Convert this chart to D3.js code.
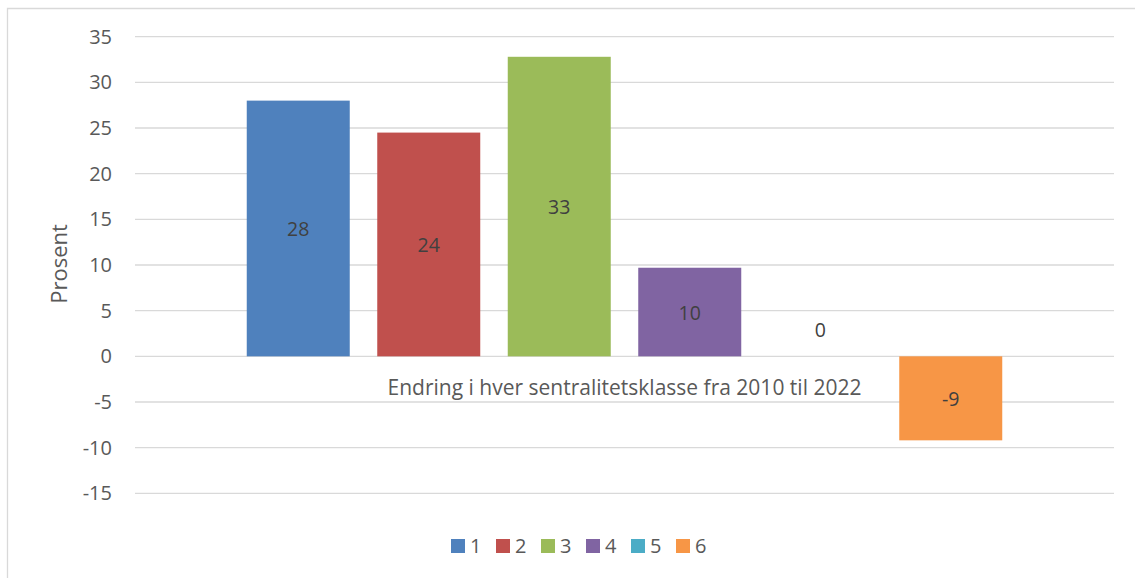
<!doctype html>
<html lang='no'>
<head>
    <meta charset='utf-8'>
    <title>Endring i hver sentralitetsklasse</title>
    <script src='https://cdn.jsdelivr.net/npm/d3@7'></script>
    <style>
        body { margin: 0; background: white; }
        svg text { font-family: 'Open Sans', sans-serif; }
        .grid line { stroke: #d9d9d9; stroke-width: 1.3px; }
        .tick-label { fill: #595959; font-size: 20px; }
        .bar-label { fill: #404040; font-size: 19.5px; }
    </style>
</head>
<body>
<svg id='chart' width='1135' height='578'></svg>
<script>
    // data
    const category = 'Endring i hver sentralitetsklasse fra 2010 til 2022';
    const classes = ['1', '2', '3', '4', '5', '6'];
    const changes = [28.0, 24.5, 32.8, 9.7, 0, -9.2];
    const labels = ['28', '24', '33', '10', '0', '-9'];
    const yTicks = [35, 30, 25, 20, 15, 10, 5, 0, -5, -10, -15];
    const colors = ['#4f81bd', '#c0504d', '#9bbb59', '#8064a2', '#4bacc6', '#f79646'];

    const svg = d3.select('#chart');

    // chart area border (only left and top are visible in the crop)
    svg.append('path')
        .attr('d', 'M7.5,578 V8.5 H1135')
        .attr('fill', 'none')
        .attr('stroke', '#d9d9d9')
        .attr('stroke-width', 1.3);

    const plot = {left: 135, right: 1114};
    const y = d3.scaleLinear().domain([-15, 35]).range([493.3, 36.7]);

    // one category, six series: bars are 103px wide, 130.5px apart, centred
    const cx = (plot.left + plot.right) / 2;
    const step = 130.5, barW = 103;
    const x = d3.scaleBand()
        .domain(classes)
        .range([cx - step * 3, cx + step * 3])
        .paddingInner((step - barW) / step)
        .paddingOuter((step - barW) / step / 2);

    svg.append('g').attr('class', 'grid')
        .selectAll('line')
        .data(yTicks)
        .enter().append('line')
        .attr('x1', plot.left).attr('x2', plot.right)
        .attr('y1', d => y(d)).attr('y2', d => y(d));

    svg.append('g')
        .selectAll('text')
        .data(yTicks)
        .enter().append('text')
        .attr('class', 'tick-label')
        .attr('x', 112)
        .attr('y', d => y(d))
        .attr('dy', '0.35em')
        .attr('text-anchor', 'end')
        .text(d => d);

    svg.append('text')
        .attr('class', 'tick-label')
        .attr('transform', 'translate(67,264) rotate(-90)')
        .attr('text-anchor', 'middle')
        .style('font-size', '22px')
        .text('Prosent');

    const bars = classes.map((c, i) => ({c: c, v: changes[i], label: labels[i], color: colors[i]}));

    svg.append('g')
        .selectAll('rect')
        .data(bars)
        .enter().append('rect')
        .attr('x', d => x(d.c))
        .attr('width', x.bandwidth())
        .attr('y', d => y(Math.max(0, d.v)))
        .attr('height', d => Math.abs(y(d.v) - y(0)))
        .attr('fill', d => d.color);

    svg.append('g')
        .selectAll('text')
        .data(bars)
        .enter().append('text')
        .attr('class', 'bar-label')
        .attr('x', d => x(d.c) + x.bandwidth() / 2)
        .attr('y', d => d.v === 0 ? y(0) - 26 : (y(d.v) + y(0)) / 2 + 1)
        .attr('dy', '0.35em')
        .attr('text-anchor', 'middle')
        .text(d => d.label);

    // category label sits just below the zero line
    svg.append('text')
        .attr('class', 'tick-label')
        .attr('x', cx)
        .attr('y', y(0) + 31)
        .attr('dy', '0.35em')
        .attr('text-anchor', 'middle')
        .style('font-size', '21px')
        .text(category);

    // legend
    const legend = svg.append('g')
        .selectAll('g')
        .data(bars)
        .enter().append('g')
        .attr('transform', (d, i) => `translate(${451 + i * 45},0)`);
    legend.append('rect')
        .attr('y', 539).attr('width', 14).attr('height', 14)
        .attr('fill', d => d.color);
    legend.append('text')
        .attr('class', 'tick-label')
        .attr('x', 19).attr('y', 546)
        .attr('dy', '0.35em')
        .text(d => d.c);
</script>
</body>
</html>
